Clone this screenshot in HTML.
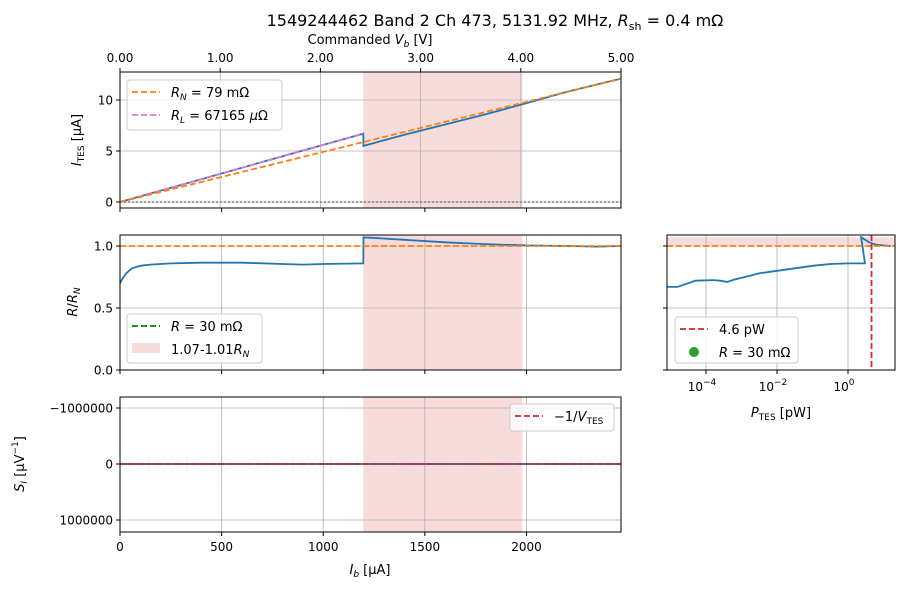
<!DOCTYPE html>
<html><head><meta charset="utf-8"><style>
body{margin:0;background:#fff}
svg{font-family:"DejaVu Sans","Liberation Sans",sans-serif;}
</style></head><body>
<svg id="fig" width="908" height="589" viewBox="0 0 908 589" xmlns="http://www.w3.org/2000/svg">
<rect width="908" height="589" fill="#fff"/>
<text x="495" y="26" font-size="16" text-anchor="middle">1549244462 Band 2 Ch 473, 5131.92 MHz, <tspan font-style="italic">R</tspan><tspan font-size="11" dy="4">sh</tspan><tspan dy="-4"> = 0.4 mΩ</tspan></text>
<g id="g"></g>
</svg>
<script>
// ---- data ----
const ibIV = [0, 200, 400, 600, 800, 1000, 1197, 1198, 1400, 1600, 1800, 2000, 2200, 2465];
const itesIV = [0, 1.12, 2.24, 3.36, 4.48, 5.6, 6.7, 5.5, 6.6, 7.6, 8.6, 9.7, 10.8, 12.1];
const rnLine = [0, 12.1];
const rlLine = [0, 6.7];
const ibR = [0, 10, 30, 60, 100, 150, 250, 400, 600, 800, 900, 1000, 1197, 1198, 1400, 1600, 1800, 2000, 2200, 2350, 2465];
const rFrac = [0.7, 0.73, 0.78, 0.82, 0.84, 0.85, 0.86, 0.865, 0.865, 0.855, 0.85, 0.855, 0.86, 1.07, 1.05, 1.03, 1.015, 1.005, 1.0, 0.995, 1.0];
const logP = [-5.1, -4.8, -4.5, -4.3, -3.8, -3.6, -3.4, -3.2, -2.9, -2.5, -2.0, -1.5, -1.0, -0.5, 0.0, 0.3, 0.48, 0.37, 0.6, 0.8, 1.0, 1.2];
const rP = [0.67, 0.67, 0.7, 0.72, 0.725, 0.72, 0.71, 0.73, 0.75, 0.78, 0.8, 0.82, 0.84, 0.855, 0.86, 0.86, 0.86, 1.07, 1.03, 1.01, 1.005, 1.0];
const pOpt = 4.6;
const shade = [1197, 1980];
const topTicks = ["0.00","1.00","2.00","3.00","4.00","5.00"];
const ibTicks = [0, 500, 1000, 1500, 2000];
const siTicks = [-1000000, 0, 1000000];
// ---- axes ----
const X0=120, X1=621;
const xIb = v => X0 + (v/2465)*(X1-X0);
const yTop = v => 202 - v*10.2;
const yMid = v => 370 - v*124;
const ySi = v => 464 + v*56e-6;
const xP = lp => 848 + lp*35.5;
const NS="http://www.w3.org/2000/svg";
const FS=12, LS=13;
const g=document.getElementById('g');
function el(tag, attrs, parent){const e=document.createElementNS(NS,tag);for(const k in attrs)e.setAttribute(k,attrs[k]);(parent||g).appendChild(e);return e;}
function txt(x,y,s,attrs,parent){const t=el('text',Object.assign({x:x,y:y,'font-size':FS},attrs||{}),parent);t.innerHTML=s;return t;}
function pathFrom(xs,ys,fx,fy){return xs.map((v,i)=>(i?'L':'M')+fx(v).toFixed(1)+','+fy(ys[i]).toFixed(1)).join('');}
const grid='#b0b0b0';
const panels=[[X0,72,X1,208],[X0,235,X1,370],[X0,397,X1,532],[667,235,895,370]];
// shading
[[72,208],[235,370],[397,532]].forEach((p,i)=>{
  const r=el('rect',{x:xIb(shade[0]),y:p[0],width:xIb(shade[1])-xIb(shade[0]),height:p[1]-p[0],fill:'#d62728','fill-opacity':0.16});
  
  
});
const rs=el('rect',{x:667,y:yMid(1.07),width:228,height:yMid(1.0)-yMid(1.07),fill:'#d62728','fill-opacity':0.16});


// top panel
topTicks.forEach((t,i)=>{const x=X0+i*(X1-X0)/5;
  el('line',{x1:x,x2:x,y1:72,y2:208,stroke:grid,'stroke-width':0.8});
  el('line',{x1:x,x2:x,y1:72,y2:68,stroke:'#000'});
  txt(x,62,t,{'text-anchor':'middle'});});
[0,5,10].forEach(v=>{const y=yTop(v);
  el('line',{x1:X0,x2:X1,y1:y,y2:y,stroke:grid,'stroke-width':0.8});
  el('line',{x1:X0,x2:X0-4,y1:y,y2:y,stroke:'#000'});
  txt(X0-7,y+4.5,v,{'text-anchor':'end'});});
txt(370,44,'Commanded <tspan font-style="italic">V</tspan><tspan font-size="9" dy="3" font-style="italic">b</tspan><tspan dy="-3"> [V]</tspan>',{'text-anchor':'middle','font-size':LS});
[[72,208],[235,370],[397,532]].forEach((p,k)=>{
  ibTicks.forEach(v=>{const x=xIb(v);
    if(k>0) el('line',{x1:x,x2:x,y1:p[0],y2:p[1],stroke:grid,'stroke-width':0.8});
    el('line',{x1:x,x2:x,y1:p[1],y2:p[1]+4,stroke:'#000'});
    if(k==2) txt(x,551,v,{'text-anchor':'middle'});});
});
txt(370,574,'<tspan font-style="italic">I</tspan><tspan font-size="9" dy="3" font-style="italic">b</tspan><tspan dy="-3"> [μA]</tspan>',{'text-anchor':'middle','font-size':LS});
[0,0.5,1.0].forEach(v=>{const y=yMid(v);
  el('line',{x1:X0,x2:X1,y1:y,y2:y,stroke:grid,'stroke-width':0.8});
  el('line',{x1:X0,x2:X0-4,y1:y,y2:y,stroke:'#000'});
  txt(X0-7,y+4.5,v.toFixed(1),{'text-anchor':'end'});
  el('line',{x1:667,x2:895,y1:y,y2:y,stroke:grid,'stroke-width':0.8});
  el('line',{x1:667,x2:663,y1:y,y2:y,stroke:'#000'});});
siTicks.forEach(v=>{const y=ySi(v);
  el('line',{x1:X0,x2:X1,y1:y,y2:y,stroke:grid,'stroke-width':0.8});
  el('line',{x1:X0,x2:X0-4,y1:y,y2:y,stroke:'#000'});
  txt(X0-7,y+4.5,(v<0?'−':'')+Math.abs(v),{'text-anchor':'end'});});
[-4,-2,0].forEach(d=>{const x=xP(d);
  el('line',{x1:x,x2:x,y1:235,y2:370,stroke:grid,'stroke-width':0.8});
  el('line',{x1:x,x2:x,y1:370,y2:374,stroke:'#000'});
  txt(x-4,391,'10<tspan font-size="9" dy="-6">'+(d<0?'−'+(-d):d)+'</tspan>',{'text-anchor':'middle'});});
txt(781,417,'<tspan font-style="italic">P</tspan><tspan font-size="9" dy="3">TES</tspan><tspan dy="-3"> [pW]</tspan>',{'text-anchor':'middle','font-size':LS});
// y labels
txt(0,0,'<tspan font-style="italic">I</tspan><tspan font-size="9" dy="3">TES</tspan><tspan dy="-3"> [μA]</tspan>',{'text-anchor':'middle','font-size':LS,transform:'translate(81,140) rotate(-90)'});
txt(0,0,'<tspan font-style="italic">R</tspan>/<tspan font-style="italic">R</tspan><tspan font-size="9" dy="3" font-style="italic">N</tspan>',{'text-anchor':'middle','font-size':LS,transform:'translate(77,302) rotate(-90)'});
txt(0,0,'<tspan font-style="italic">S</tspan><tspan font-size="9" dy="3" font-style="italic">I</tspan><tspan dy="-3"> [μV</tspan><tspan font-size="9" dy="-6">−1</tspan><tspan dy="6">]</tspan>',{'text-anchor':'middle','font-size':LS,transform:'translate(24,464) rotate(-90)'});
// series top
el('line',{x1:X0,x2:X1,y1:yTop(0),y2:yTop(0),stroke:'#808080','stroke-width':1.5,'stroke-dasharray':'2,2'});
const pIV=el('path',{d:pathFrom(ibIV,itesIV,xIb,yTop),fill:'none',stroke:'#1f77b4','stroke-width':1.8});


const pRL=el('path',{d:pathFrom([0,1197],rlLine,xIb,yTop),fill:'none',stroke:'#e377c2','stroke-width':1.8,'stroke-dasharray':'6,3'});


const pRN=el('path',{d:pathFrom([0,2465],rnLine,xIb,yTop),fill:'none',stroke:'#ff7f0e','stroke-width':1.8,'stroke-dasharray':'6,3'});


// mid
const pR=el('path',{d:pathFrom(ibR,rFrac,xIb,yMid),fill:'none',stroke:'#1f77b4','stroke-width':1.8});


el('line',{x1:X0,x2:X1,y1:yMid(1),y2:yMid(1),stroke:'#ff7f0e','stroke-width':1.8,'stroke-dasharray':'6,3'});
// bottom
el('line',{x1:X0,x2:X1,y1:ySi(0),y2:ySi(0),stroke:'#1f77b4','stroke-width':2});
el('line',{x1:X0,x2:X1,y1:ySi(0),y2:ySi(0),stroke:'#d62728','stroke-width':1.8,'stroke-dasharray':'6,3'});
// right
const pRp=el('path',{d:pathFrom(logP,rP,xP,yMid),fill:'none',stroke:'#1f77b4','stroke-width':1.8});


el('line',{x1:667,x2:895,y1:yMid(1),y2:yMid(1),stroke:'#ff7f0e','stroke-width':1.8,'stroke-dasharray':'6,3'});
const xp=xP(Math.log10(pOpt));
el('line',{x1:xp,x2:xp,y1:235,y2:370,stroke:'#d62728','stroke-width':1.8,'stroke-dasharray':'6,3'});
panels.forEach(p=>el('rect',{x:p[0],y:p[1],width:p[2]-p[0],height:p[3]-p[1],fill:'none',stroke:'#000','stroke-width':1}));
// legends
function legend(x,y,w,h,items,name){
  const lg=el('g',{});
  
  
  el('rect',{x:x,y:y,width:w,height:h,rx:3,fill:'#fff','fill-opacity':0.8,stroke:'#ccc'},lg);
  items.forEach((it,i)=>{const cy=y+16+i*23;
    if(it.type=='line') el('line',{x1:x+5,x2:x+33,y1:cy-4,y2:cy-4,stroke:it.c,'stroke-width':1.8,'stroke-dasharray':'6,3'},lg);
    else if(it.type=='patch') el('rect',{x:x+5,y:cy-10,width:28,height:10,fill:'#d62728','fill-opacity':0.16},lg);
    else el('circle',{cx:x+19,cy:cy-4,r:5,fill:it.c},lg);
    txt(x+44,cy+1,it.t,{'font-size':LS},lg);});
}
legend(127,80,155,50,[{type:'line',c:'#ff7f0e',t:'<tspan font-style="italic">R</tspan><tspan font-size="9" dy="3" font-style="italic">N</tspan><tspan dy="-3">  = 79 mΩ</tspan>'},{type:'line',c:'#e377c2',t:'<tspan font-style="italic">R</tspan><tspan font-size="9" dy="3" font-style="italic">L</tspan><tspan dy="-3"> = 67165 </tspan><tspan font-style="italic">μ</tspan>Ω'}],'legend-top');
legend(127,314,135,49,[{type:'line',c:'#008000',t:'<tspan font-style="italic">R</tspan> = 30 mΩ'},{type:'patch',t:'1.07-1.01<tspan font-style="italic">R</tspan><tspan font-size="9" dy="3" font-style="italic">N</tspan>'}],'legend-mid');
legend(675,317,123,46,[{type:'line',c:'#d62728',t:'4.6 pW'},{type:'dot',c:'#2ca02c',t:'<tspan font-style="italic">R</tspan> = 30 mΩ'}],'legend-right');
legend(510,404,104,27,[{type:'line',c:'#d62728',t:'−1/<tspan font-style="italic">V</tspan><tspan font-size="9" dy="3">TES</tspan>'}],'legend-bottom');
</script>
</body></html>
